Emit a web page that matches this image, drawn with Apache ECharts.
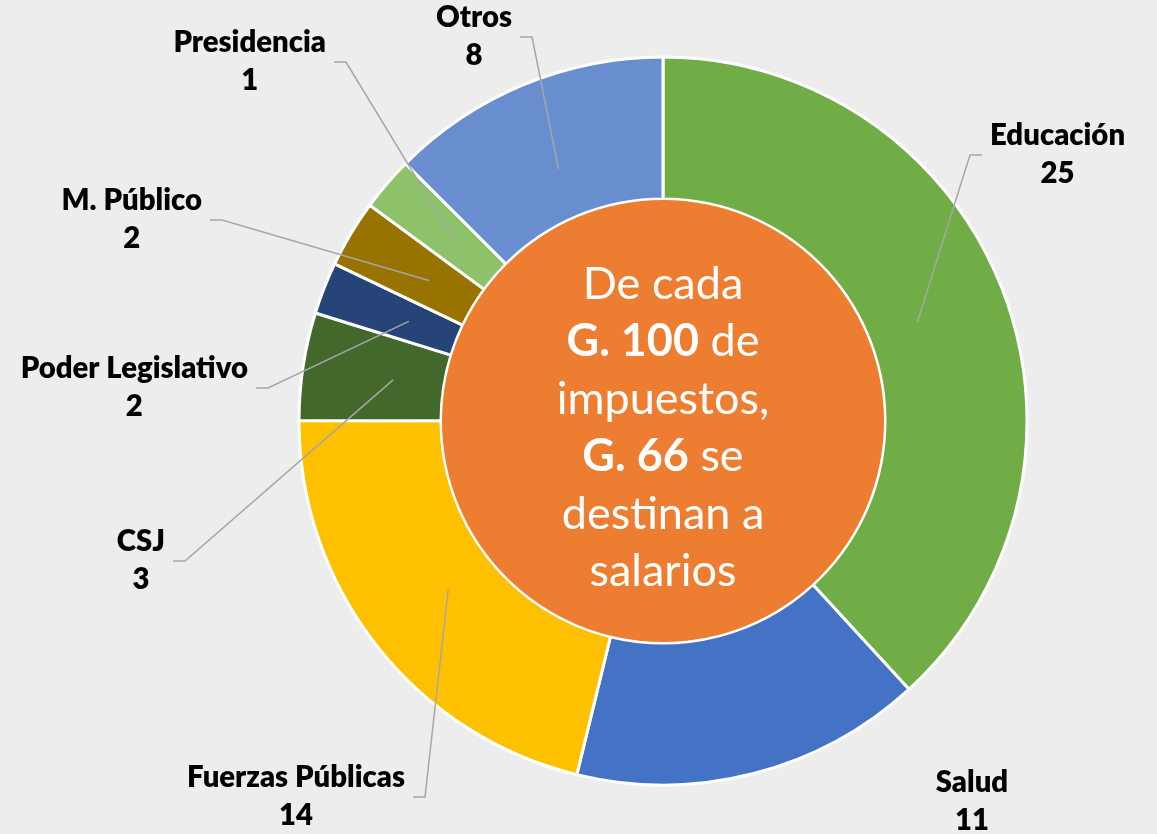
<!DOCTYPE html>
<html>
<head>
<meta charset="utf-8">
<script src="https://cdn.jsdelivr.net/npm/echarts@6/dist/echarts.min.js"></script>
<style>
  html, body { margin: 0; padding: 0; background: #EDEDED; }
  #chart { width: 1157px; height: 834px; }
</style>
</head>
<body>
<div id="chart"></div>
<script>
// ---- Data ----
const categories = ['Educación', 'Salud', 'Fuerzas Públicas', 'CSJ', 'Poder Legislativo', 'M. Público', 'Presidencia', 'Otros'];
// slice sizes as read from the arcs (G. per 100 of taxes)
const sliceValues = [25.2, 10.3, 14.0, 3.15, 1.52, 1.98, 1.58, 8.25];
// values printed on the data labels
const labelValues = [25, 11, 14, 3, 2, 2, 1, 8];
const totalSalaries = 66;
const centerTextLines = [
  [['n', 'De cada']],
  [['b', 'G. 100'], ['n', ' de']],
  [['n', 'impuestos,']],
  [['b', 'G. 66'], ['n', ' se']],
  [['n', 'destinan a']],
  [['n', 'salarios']]
];

// ---- Styles / layout ----
const colors = ['#70AD47', '#4472C4', '#FFC000', '#43682B', '#264478', '#997300', '#8DC16A', '#698ED0'];
const CX = 663, CY = 421;
// label anchor (knee of leader line) relative to pie centre, and side of the label
const labelAnchors = [
  [307, -266, 1],
  [309, 381, 0],
  [-238, 376, -1],
  [-478, 140, -1],
  [-395, -33, -1],
  [-441, -201, -1],
  [-317, -359, -1],
  [-131, -384, -1]
];
const TAIL = 12, GAP = 8;

const chart = echarts.init(document.getElementById('chart'), null, { renderer: 'canvas' });

const ringData = categories.map((c, i) => ({ name: c, value: sliceValues[i], itemStyle: { color: colors[i] } }));
const labelData = categories.map((c, i) => ({
  name: c, value: sliceValues[i],
  labelLine: { show: labelAnchors[i][2] !== 0 }
}));

const centerFormatter = centerTextLines.map(line => line.map(([s, t]) => '{' + s + '|' + t + '}').join('')).join('\n');

const option = {
  backgroundColor: '#EDEDED',
  animation: false,
  series: [
    {
      type: 'pie',
      name: 'ring',
      center: [CX, CY],
      radius: [222, 364],
      startAngle: 90,
      clockwise: true,
      silent: true,
      label: { show: false },
      labelLine: { show: false },
      itemStyle: { borderColor: '#FFFFFF', borderWidth: 3 },
      data: ringData,
      z: 1
    },
    {
      type: 'pie',
      name: 'centre',
      center: [CX, CY],
      radius: [0, 221],
      silent: true,
      itemStyle: { color: '#ED7D31' },
      label: {
        show: true,
        position: 'center',
        formatter: centerFormatter,
        padding: [14, 0, 0, 0],
        rich: {
          n: { fontFamily: 'Lato', fontSize: 45, color: '#FFFFFF', lineHeight: 57.5 },
          b: { fontFamily: 'Lato', fontWeight: 'bold', fontSize: 45, color: '#FFFFFF', lineHeight: 57.5 }
        }
      },
      labelLine: { show: false },
      data: [{ name: 'Salarios', value: totalSalaries }],
      z: 2
    },
    {
      type: 'pie',
      name: 'labels',
      center: [CX, CY],
      radius: [0, 273],
      startAngle: 90,
      clockwise: true,
      silent: true,
      avoidLabelOverlap: false,
      itemStyle: { color: 'rgba(0,0,0,0)', borderWidth: 0 },
      label: {
        show: true,
        position: 'outside',
        fontFamily: 'Lato',
        fontWeight: 800,
        fontSize: 29.3,
        lineHeight: 38,
        color: '#000000',
        align: 'center',
        formatter: p => p.name + '\n' + labelValues[p.dataIndex]
      },
      labelLine: {
        show: true,
        length: 20,
        length2: 10,
        lineStyle: { color: '#A6A6A6', width: 1.5 }
      },
      labelLayout: function (params) {
        const i = params.dataIndex;
        const a = labelAnchors[i];
        const kx = CX + a[0], ky = CY + a[1];
        const w = params.labelRect.width;
        if (a[2] === 0) {
          return { x: kx, y: ky, align: 'center', verticalAlign: 'middle' };
        }
        const ex = kx + a[2] * TAIL;
        const start = params.labelLinePoints ? params.labelLinePoints[0] : [kx, ky];
        return {
          x: ex + a[2] * (GAP + w / 2),
          y: ky,
          align: 'center',
          verticalAlign: 'middle',
          labelLinePoints: [start, [kx, ky], [ex, ky]]
        };
      },
      data: labelData,
      z: 3
    }
  ]
};
chart.setOption(option);
</script>
</body>
</html>
